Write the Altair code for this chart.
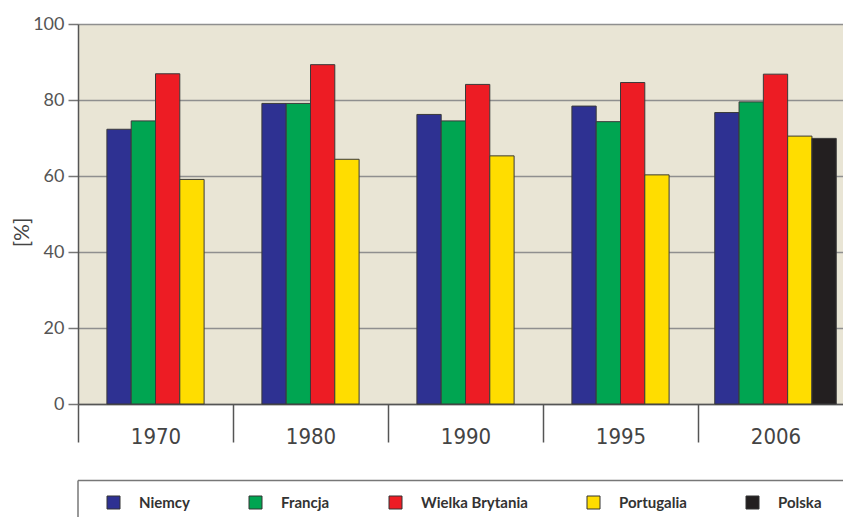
import json
import altair as alt
import pandas as pd

# ---- data ----
years = ["1970", "1980", "1990", "1995", "2006"]
series = ["Niemcy", "Francja", "Wielka Brytania", "Portugalia", "Polska"]
colors = ["#2E3192", "#00A551", "#ED1C24", "#FFDD00", "#231F20"]

niemcy = [72.3, 79.1, 76.2, 78.4, 76.7]
francja = [74.5, 79.1, 74.5, 74.3, 79.5]
wielka_brytania = [86.9, 89.3, 84.1, 84.6, 86.8]
portugalia = [59.1, 64.4, 65.3, 60.3, 70.5]
polska = [None, None, None, None, 69.9]

values_by_series = [niemcy, francja, wielka_brytania, portugalia, polska]

rows = []
for s, vals in zip(series, values_by_series):
    for y, v in zip(years, vals):
        if v is not None:
            rows.append({"year": y, "series": s, "value": v})
df = pd.DataFrame(rows)

BAND_PX = 155.0
BAR_W = 24.3 / BAND_PX  # bar width in band units
PLOT_W = 765
PLOT_H = 380
FULL_RANGE = BAND_PX * len(years)

years_js = json.dumps(years)
series_js = json.dumps(series)

bars = (
    alt.Chart(df)
    .transform_calculate(
        yi=f"indexof({years_js}, datum.year)",
        si=f"indexof({series_js}, datum.series)",
    )
    .transform_window(rank="row_number()", groupby=["year"], sort=[alt.SortField("si")])
    .transform_joinaggregate(n="count()", groupby=["year"])
    .transform_calculate(pos=f"datum.yi + (datum.rank - (datum.n + 1) / 2) * {BAR_W}")
    .transform_calculate(x0=f"datum.pos - {BAR_W / 2}", x1=f"datum.pos + {BAR_W / 2}")
    .mark_bar(stroke="#3a3a3a", strokeWidth=1)
    .encode(
        x=alt.X(
            "x0:Q",
            scale=alt.Scale(domain=[-0.5, len(years) - 0.5], range=[0, FULL_RANGE], nice=False, zero=False),
            axis=None,
        ),
        x2="x1:Q",
        y=alt.Y(
            "value:Q",
            scale=alt.Scale(domain=[0, 100], nice=False),
            axis=alt.Axis(
                values=[0, 20, 40, 60, 80, 100],
                title="[%]",
                grid=True,
                gridColor="#8f8f8f",
                gridWidth=1.5,
                domainColor="#555555",
                domainWidth=1.5,
                tickSize=10,
                tickColor="#777777",
                tickWidth=1.5,
                labelFont="Lato",
                labelFontSize=18,
                labelColor="#555555",
                labelPadding=4,
                titleFont="Lato",
                titleFontSize=21,
                titleFontWeight="normal",
                titleColor="#444444",
                titleX=-56,
                titleY=208,
                titleBaseline="middle",
            ),
        ),
        y2=alt.datum(0),
        color=alt.Color(
            "series:N",
            scale=alt.Scale(domain=series, range=colors),
            legend=alt.Legend(
                title=None,
                orient="none",
                legendX=28,
                legendY=471,
                direction="horizontal",
                columns=5,
                columnPadding=57,
                symbolType="square",
                symbolSize=169,
                symbolStrokeColor="#333333",
                symbolStrokeWidth=1,
                labelOffset=18,
                labelFont="Lato",
                labelFontSize=15,
                labelFontWeight="bold",
                labelColor="#333333",
                padding=0,
            ),
        ),
    )
)

years_df = pd.DataFrame({"year": years})
year_axis = (
    alt.Chart(years_df)
    .mark_point(opacity=0)
    .encode(
        x=alt.X(
            "year:N",
            sort=years,
            scale=alt.Scale(range=[0, FULL_RANGE], paddingInner=0, paddingOuter=0),
            axis=alt.Axis(
                orient="bottom",
                title=None,
                tickBand="extent",
                tickSize=38,
                tickColor="#555555",
                tickWidth=1.5,
                domainColor="#555555",
                domainWidth=1.5,
                labelAngle=0,
                labelFont="Liberation Sans Narrow, DejaVu Sans Condensed, Lato",
                labelFontSize=22,
                labelColor="#444444",
                labelPadding=-16,
            ),
        ),
        y=alt.value(0),
    )
)

legend_top = (
    alt.Chart(alt.Data(values=[{}]))
    .mark_rule(color="#777777", strokeWidth=1.5)
    .encode(x=alt.value(0), x2=alt.value(PLOT_W + 10), y=alt.value(456.5))
)
legend_left = (
    alt.Chart(alt.Data(values=[{}]))
    .mark_rule(color="#777777", strokeWidth=1.5)
    .encode(x=alt.value(0), y=alt.value(456.5), y2=alt.value(500))
)

chart = (
    alt.layer(bars, year_axis, legend_top, legend_left)
    .resolve_scale(x="independent")
    .properties(
        width=PLOT_W,
        height=PLOT_H,
        autosize=alt.AutoSizeParams(type="none"),
        padding={"left": 78, "top": 24, "right": 0, "bottom": 113},
        background="white",
    )
    .configure_view(fill="#E9E5D5", stroke=None)
)

chart.save("out.html", embed_options={"renderer": "svg", "actions": False})
